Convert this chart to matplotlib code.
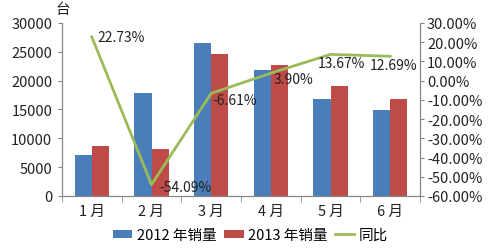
import matplotlib.pyplot as plt
import numpy as np

plt.rcParams['font.family'] = ['Noto Sans CJK SC', 'DejaVu Sans']

months = ['1 月', '2 月', '3 月', '4 月', '5 月', '6 月']
sales_2012 = [7100, 17800, 26450, 21900, 16800, 14950]
sales_2013 = [8700, 8170, 24700, 22750, 19100, 16850]
yoy = [22.73, -54.09, -6.61, 3.90, 13.67, 12.69]
yoy_labels = ['22.73%', '-54.09%', '-6.61%', '3.90%', '13.67%', '12.69%']
label_offsets = [(4, 0), (6, -1.5), (1, -4.5), (2, -4.5), (-9, -6.5), (-14.5, -6)]

blue = '#4A7EBB'
red = '#BE4B48'
green = '#9BBB59'
gray = '#868686'

fig = plt.figure(figsize=(4.91, 2.51), dpi=100)
ax = fig.add_axes([62 / 491, 1 - 197 / 251, (420 - 62) / 491, (197 - 24) / 251])
ax2 = ax.twinx()

x = np.arange(len(months))
w = 0.285
b1 = ax.bar(x - w / 2, sales_2012, w, color=blue, label='2012 年销量')
b2 = ax.bar(x + w / 2, sales_2013, w, color=red, label='2013 年销量')
ln, = ax2.plot(x, yoy, color=green, lw=2, label='同比')

for i in range(len(x)):
    ax2.annotate(yoy_labels[i], (x[i], yoy[i]), xytext=label_offsets[i],
                 textcoords='offset points', fontsize=10, color='#222222',
                 ha='left', va='center')

ax.set_xlim(-0.5, 5.5)
ax.set_ylim(0, 30000)
ax.set_yticks(range(0, 30001, 5000))
ax2.set_ylim(-60, 30)
ax2.set_yticks(range(-60, 31, 10))
ax2.set_yticklabels(['%.2f%%' % v for v in range(-60, 31, 10)])

ax.set_xticks(x)
ax.set_xticklabels(months)
ax.set_xticks(np.arange(-0.5, 6, 1), minor=True)
ax.tick_params(axis='x', which='major', length=0, pad=6)
ax.tick_params(axis='x', which='minor', length=4, color=gray)
ax.tick_params(axis='y', length=3, color=gray, pad=4)
ax2.tick_params(axis='y', length=3, color=gray, pad=2)

for a in (ax, ax2):
    a.spines['top'].set_visible(False)
    for s in ('left', 'right', 'bottom'):
        a.spines[s].set_color(gray)
    for lab in a.get_xticklabels() + a.get_yticklabels():
        lab.set_fontsize(10.5)
        lab.set_color('#222222')

fig.text(56 / 491, 1 - 10 / 251, '台', fontsize=10.5, va='center', color='#222222')

fig.legend([b1, b2, ln], ['2012 年销量', '2013 年销量', '同比'], ncol=3,
           loc='center', bbox_to_anchor=(0.51, 1 - 236 / 251), frameon=False,
           fontsize=10.5, handlelength=1.35, handleheight=0.5,
           handletextpad=0.3, columnspacing=0.5)

fig.savefig('out.png', dpi=100)
